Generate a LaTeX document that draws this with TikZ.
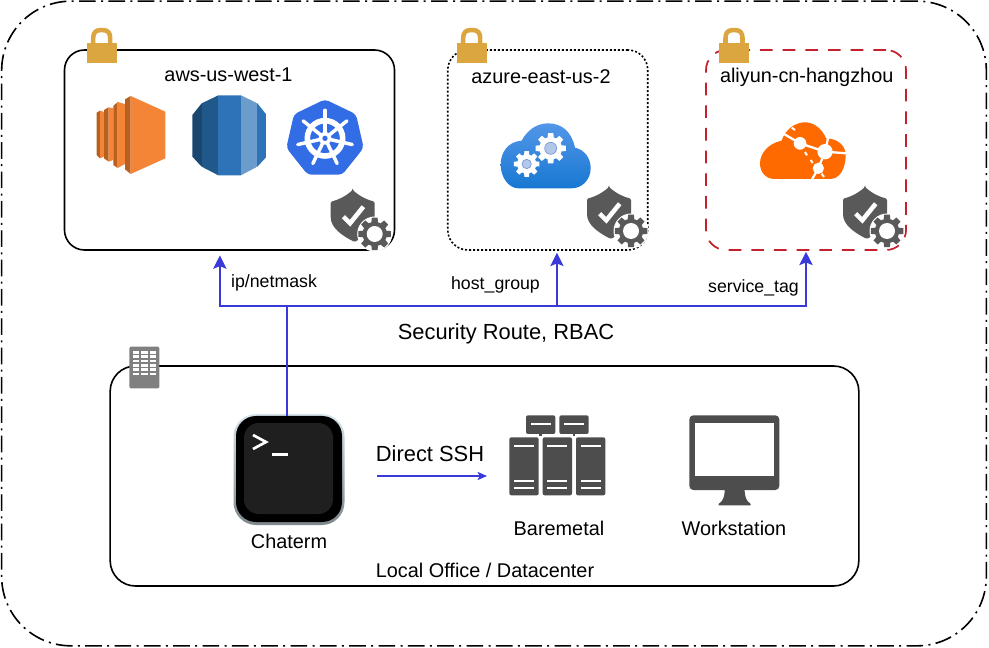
\documentclass[tikz,border=0pt]{standalone}
\usepackage{fontspec}
\setmainfont{Liberation Sans}
\usetikzlibrary{arrows.meta}
\definecolor{lockc}{HTML}{DBA63F}
\definecolor{iconc}{HTML}{4D4D4D}
\definecolor{shieldc}{HTML}{595959}
\definecolor{wirec}{HTML}{3A3ADB}
\definecolor{redc}{HTML}{C4202E}
\definecolor{ecA}{HTML}{F58536}
\definecolor{ecB}{HTML}{B8601F}
\definecolor{kubec}{HTML}{326DE6}
\definecolor{rdsA}{RGB}{26,71,111}
\definecolor{rdsB}{RGB}{33,88,138}
\definecolor{rdsC}{RGB}{46,115,184}
\definecolor{rdsD}{RGB}{108,156,204}
\definecolor{azTop}{RGB}{82,150,232}
\definecolor{azBot}{RGB}{24,120,210}
\definecolor{azHub}{RGB}{178,200,235}
\definecolor{azRim}{RGB}{120,150,210}
\definecolor{aliOr}{RGB}{255,106,0}
\definecolor{bldg}{RGB}{128,128,128}
\definecolor{termIn}{RGB}{31,31,31}
\definecolor{haloTop}{RGB}{214,228,234}
\definecolor{haloBot}{RGB}{125,135,140}
\newcommand{\gearshape}[4]{%
  \fill[#4] (#1,#2) circle ({#3*0.74});
  \foreach \a in {0,45,...,315}{
    \fill[#4] ({#1+#3*0.7*cos(\a-17)},{#2+#3*0.7*sin(\a-17)})
      -- ({#1+#3*cos(\a-10)},{#2+#3*sin(\a-10)})
      -- ({#1+#3*cos(\a+10)},{#2+#3*sin(\a+10)})
      -- ({#1+#3*0.7*cos(\a+17)},{#2+#3*0.7*sin(\a+17)}) -- cycle;
  }%
}
\tikzset{
  zm/.style={x=0.25pt,y=-0.25pt},
  regionbox/.style={draw=black,line width=1.2pt,rounded corners=15pt,minimum width=247.5pt,minimum height=150pt,inner sep=0pt,fill=white},
  smallbox/.style={regionbox,minimum width=150pt},
  lbl/.style={font=\fontsize{14.9pt}{16pt}\selectfont,text=black,inner sep=0pt},
  wlbl/.style={font=\fontsize{14.9pt}{16pt}\selectfont,text=black,inner sep=0pt},
  tinylbl/.style={font=\fontsize{13.3pt}{14pt}\selectfont,text=black,inner sep=0pt},
  biglbl/.style={font=\fontsize{16.4pt}{18pt}\selectfont,text=black,inner sep=0pt},
  wire/.style={draw=wirec,line width=1.1pt},
  wirearrow/.style={wire,-{Stealth[length=10pt,width=10pt,inset=2pt]}},
  padlock/.pic={
    \fill[lockc] (-15,-2) -- (15,-2) -- (15,18) -- (-15,18) -- cycle;
    \draw[lockc,line width=3.4pt] (-8.5,-1) -- (-8.5,-7) .. controls (-8.5,-12) and (-6,-14.8) .. (-2,-14.8) -- (2,-14.8) .. controls (6,-14.8) and (8.5,-12) .. (8.5,-7) -- (8.5,-1);
  },
  shieldgear/.pic={
    \fill[shieldc,rounded corners=1pt] (0,0) .. controls (-8,7) and (-15,10) .. (-22,11.7) -- (-22,26) .. controls (-22,38) and (-10,46) .. (2,52) .. controls (12,46) and (22,38) .. (22,26) -- (22,11.7) .. controls (15,10) and (8,7) .. (0,0) -- cycle;
    \draw[white,line width=3.4pt] (-9.3,26.7) -- (-2.7,33.3) -- (10.7,16.7);
    \fill[white] (22,44) circle (17.5);
    \gearshape{22}{44}{16.5}{shieldc}
    \fill[white] (22,44) circle (8);
  },
}
\begin{document}
\begin{tikzpicture}[x=0.75pt,y=-0.75pt]
\useasboundingbox (0,0) rectangle (989,648);
\fill[white] (0,0) rectangle (989,648);
% outer frame
\node[draw=black,line width=1.2pt,rounded corners=52pt,dash pattern=on 12.5pt off 4pt on 1.5pt off 4pt,minimum width=738.5pt,minimum height=483.5pt,inner sep=0pt] (frame) at (494,323.5) {};
% region boxes
\node[regionbox] (aws) at (229.5,150) {};
\node[smallbox,draw=black,dash pattern=on 1.5pt off 1.5pt] (azure) at (547.75,150) {};
\node[smallbox,draw=redc,line width=1.3pt,dash pattern=on 9.5pt off 7.5pt] (aliyun) at (806,150) {};
\node[regionbox,rounded corners=19pt,minimum width=561.5pt,minimum height=165pt] (office) at (484.5,476) {};
% locks
\pic at (101.7,45) {padlock};
\pic at (471.7,45) {padlock};
\pic at (734,45) {padlock};
% EC2
\begin{scope}[shift={(90,90)},zm]
  \fill[ecB] (20,68) -- (30,62) -- (30,205) -- (20,195) -- cycle;
  \fill[ecA] (30,62) -- (42,66) -- (42,200) -- (30,205) -- cycle;
  \fill[ecB] (42,60) -- (56,52) -- (56,215) -- (42,205) -- cycle;
  \fill[ecA] (56,52) -- (70,55) -- (70,210) -- (56,215) -- cycle;
  \fill[ecB] (70,48) -- (83,36) -- (83,234) -- (70,225) -- cycle;
  \fill[ecA] (83,36) -- (105,42) -- (105,222) -- (83,234) -- cycle;
  \fill[ecB] (105,28) -- (122,18) -- (122,252) -- (105,238) -- cycle;
  \fill[ecA] (122,18) -- (226,65) -- (226,205) -- (122,252) -- cycle;
\end{scope}
% RDS
\begin{scope}[shift={(60,20)},zm]
  \begin{scope}
    \clip (397,285) -- (425,250) -- (475,226) -- (543,226) -- (592,250) -- (620,285) -- (620,410) -- (592,440) -- (543,466) -- (475,466) -- (425,440) -- (397,410) -- cycle;
    \fill[rdsA] (397,220) rectangle (425,470);
    \fill[rdsB] (425,220) rectangle (475,470);
    \fill[rdsC] (475,220) rectangle (543,470);
    \fill[rdsD] (543,220) rectangle (592,470);
    \fill[rdsC] (592,220) rectangle (620,470);
  \end{scope}
% Kubernetes
  \fill[kubec,rounded corners=3pt] ({795+119*cos(-90)},{357+119*sin(-90)})
    -- ({795+119*cos(-90+360/7)},{357+119*sin(-90+360/7)})
    -- ({795+119*cos(-90+2*360/7)},{357+119*sin(-90+2*360/7)})
    -- ({795+119*cos(-90+3*360/7)},{357+119*sin(-90+3*360/7)})
    -- ({795+119*cos(-90+4*360/7)},{357+119*sin(-90+4*360/7)})
    -- ({795+119*cos(-90+5*360/7)},{357+119*sin(-90+5*360/7)})
    -- ({795+119*cos(-90+6*360/7)},{357+119*sin(-90+6*360/7)}) -- cycle;
  \draw[white,line width=4.2pt] (795,355) circle (53);
  \foreach \k in {0,...,6}{
    \draw[white,line width=2.6pt,line cap=round] ({795+10*cos(-90+\k*360/7)},{355+10*sin(-90+\k*360/7)}) -- ({795+84*cos(-90+\k*360/7)},{355+84*sin(-90+\k*360/7)});
  }
  \fill[white] (795,355) circle (19);
  \fill[kubec] (795,355) circle (8);
\end{scope}
% Azure cloud
\begin{scope}[shift={(440,20)},zm]
  \shade[top color=azTop,bottom color=azBot] (235,505) .. controls (205,505) and (182,470) .. (182,435) .. controls (182,395) and (205,365) .. (245,362) .. controls (262,330) and (290,310) .. (325,310) .. controls (365,310) and (395,335) .. (405,383) .. controls (435,390) and (452,415) .. (452,445) .. controls (452,480) and (425,505) .. (395,505) -- cycle;
  \gearshape{332}{385}{46}{white}
  \fill[azHub,draw=azRim,line width=.5pt] (332,385) circle (18);
  \gearshape{260}{432}{39}{white}
  \fill[azHub,draw=azRim,line width=.5pt] (260,432) circle (14);
\end{scope}
% Aliyun cloud
\begin{scope}[shift={(700,20)},zm]
  \fill[aliOr] (225,477) .. controls (195,477) and (180,455) .. (180,430) .. controls (180,400) and (205,370) .. (245,362) .. controls (255,330) and (285,305) .. (320,307) .. controls (350,310) and (370,335) .. (378,355) .. controls (410,355) and (437,375) .. (437,405) .. controls (437,445) and (420,477) .. (390,477) -- cycle;
  \draw[white,line width=1.7pt] (245,338) -- (300,370) -- (375,395) -- (355,445) -- (335,480);
  \draw[white,line width=1.7pt] (375,395) -- (440,400);
  \draw[white,line width=1.7pt] (375,395) -- (385,350);
  \fill[white] (300,370) circle (19);
  \fill[white] (375,395) circle (23);
  \fill[white] (355,445) circle (17);
  \draw[white,line width=1.5pt] (275,323) -- (285,330);
  \draw[white,line width=1.5pt] (315,396) -- (321,406);
  \draw[white,line width=1.5pt] (332,420) -- (338,429);
  \draw[white,line width=1.5pt] (365,461) -- (372,471);
\end{scope}
% shields
\pic at (352.7,190) {shieldgear};
\pic at (609,187) {shieldgear};
\pic at (865,187) {shieldgear};
% building
\begin{scope}[shift={(110,340)},zm]
  \fill[bldg,rounded corners=1pt] (58,20) rectangle (148,145);
  \foreach \cx in {68,94,120}{
    \foreach \ry in {33,46,59,72,85,98}{
      \fill[white] (\cx,\ry) rectangle ++(19,8);
    }
  }
\end{scope}
% terminal
\shade[top color=haloTop,bottom color=haloBot,rounded corners=17pt] (233.5,414) rectangle (344.5,525);
\node[draw=none,fill=black,rounded corners=15pt,minimum width=79.5pt,minimum height=79.5pt,inner sep=0pt] (chaterm) at (289,469) {};
\fill[termIn,rounded corners=11pt] (244,423) rectangle (333,514);
\begin{scope}[shift={(110,340)},zm]
  \draw[white,line width=2pt,line join=miter] (429,285) -- (468,306) -- (429,327);
  \draw[white,line width=1.8pt] (485,344) -- (533,344);
\end{scope}
% baremetal
\begin{scope}[shift={(490,400)},zm]
  \foreach \sx in {108,208}{
    \fill[iconc,rounded corners=1.5pt] (\sx,46) rectangle ++(88,56);
    \fill[white] (\sx+14,70) rectangle ++(60,5);
    \fill[iconc] (\sx+40,102) rectangle ++(8,6);
  }
  \foreach \sx in {58,158,258}{
    \fill[iconc,rounded corners=1.5pt] (\sx,112) rectangle ++(88,174);
    \fill[white] (\sx+14,136) rectangle ++(60,6);
    \fill[white] (\sx+14,240) rectangle ++(60,6);
    \fill[white] (\sx+14,262) rectangle ++(60,6);
  }
% workstation
  \fill[iconc,rounded corners=3pt] (598,46) rectangle (868,270);
  \fill[white] (616,68) rectangle (852,228);
  \fill[iconc] (716,268) -- (750,268) -- (764,268) .. controls (764,290) and (768,302) .. (782,312) -- (782,316) -- (686,316) -- (686,312) .. controls (700,302) and (704,290) .. (704,268) -- cycle;
\end{scope}
% connectors
\coordinate (busdrop) at (287,306);
\draw[wire] (busdrop |- chaterm.north) -- (busdrop);
\draw[wirearrow,shorten >=3.5pt] (busdrop) -| ([xshift=-7.2pt]aws.south);
\draw[wirearrow,shorten >=1.5pt] (busdrop) -| ([xshift=6.9pt]azure.south);
\draw[wirearrow,shorten >=.7pt] (busdrop) -| (aliyun.south);
\coordinate (sshstart) at (377,476);
\coordinate (sshend) at (487,476);
\draw[wirearrow,-{Stealth[length=7pt,width=6pt,inset=1.5pt]}] (sshstart) -- (sshend);
% labels
\node[lbl] (t1) at (228.5,75) {aws-us-west-1};
\node[lbl] (t2) at (541,77) {azure-east-us-2};
\node[lbl] (t3) at (806.7,77) {aliyun-cn-hangzhou};
\node[tinylbl] (t4) at (274,283) {ip/netmask};
\node[tinylbl] (t5) at (495.5,285) {host\_group};
\node[tinylbl] (t6) at (753.5,288) {service\_tag};
\node[biglbl] (t7) at (506,334) {Security Route, RBAC};
\node[biglbl] (t8) at (430,454) {Direct SSH};
\node[wlbl] (t9) at (289,541) {Chaterm};
\node[wlbl] (t10) at (559,528) {Baremetal};
\node[wlbl] (t11) at (734,528) {Workstation};
\node[wlbl] (t12) at (485,570) {Local Office / Datacenter};
\end{tikzpicture}
\end{document}
